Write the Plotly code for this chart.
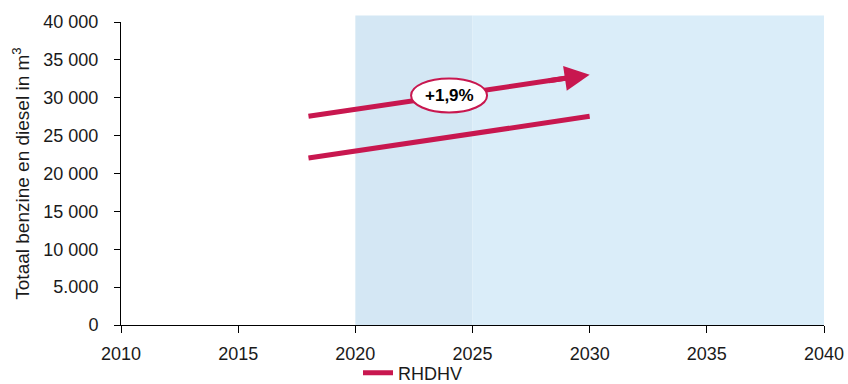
import plotly.graph_objects as go

# ---- data ----
x_range = [2010, 2040]
y_range = [0, 40000]
x_ticks = [2010, 2015, 2020, 2025, 2030, 2035, 2040]
y_ticks = [0, 5000, 10000, 15000, 20000, 25000, 30000, 35000, 40000]
y_ticktext = ["0", "5.000", "10 000", "15 000", "20 000", "25 000", "30 000", "35 000", "40 000"]

rhdhv_years = [2018, 2030]
rhdhv_values = [22050, 27550]

arrow_years = [2018, 2030]
arrow_values = [27550, 33050]
growth_label = "+1,9%"
label_pos = (2024.0, 30300)

shade_periods = [(2020, 2025), (2025, 2040)]
shade_colors = ["#d4e7f4", "#daedf9"]
shade_top = 40850

RED = "#c8174f"
FONT = "Liberation Sans, Arial"

fig = go.Figure()

# RHDHV line
fig.add_trace(go.Scatter(
    x=rhdhv_years, y=rhdhv_values, mode="lines", name="RHDHV",
    line=dict(color=RED, width=5), showlegend=True,
))

# arrow shaft (stops slightly short of tip; head drawn by annotation)
frac = 0.93
shaft_x = [arrow_years[0], arrow_years[0] + frac * (arrow_years[1] - arrow_years[0])]
shaft_y = [arrow_values[0], arrow_values[0] + frac * (arrow_values[1] - arrow_values[0])]
fig.add_trace(go.Scatter(
    x=shaft_x, y=shaft_y, mode="lines", line=dict(color=RED, width=5),
    showlegend=False, hoverinfo="skip",
))

xspan = x_range[1] - x_range[0]
yspan = y_range[1] - y_range[0]
shapes = []
for (a, b), c in zip(shade_periods, shade_colors):
    shapes.append(dict(
        type="rect", xref="x domain", yref="y domain",
        x0=(a - x_range[0]) / xspan, x1=(b - x_range[0]) / xspan,
        y0=0, y1=(shade_top - y_range[0]) / yspan,
        fillcolor=c, line=dict(width=0), layer="below",
    ))
# ellipse label
shapes.append(dict(
    type="circle", xref="x", yref="y", xsizemode="pixel", ysizemode="pixel",
    xanchor=label_pos[0], yanchor=label_pos[1],
    x0=-38, x1=38, y0=-17, y1=17,
    fillcolor="white", line=dict(color=RED, width=2), layer="above",
))

annotations = [
    dict(x=arrow_years[1], y=arrow_values[1],
         ax=arrow_years[0] + 0.85 * (arrow_years[1] - arrow_years[0]),
         ay=arrow_values[0] + 0.85 * (arrow_values[1] - arrow_values[0]),
         axref="x", ayref="y", xref="x", yref="y", text="",
         showarrow=True, arrowhead=2, arrowsize=1, arrowwidth=5, arrowcolor=RED),
    dict(x=label_pos[0], y=label_pos[1], xref="x", yref="y", text="<b>" + growth_label + "</b>",
         showarrow=False, font=dict(size=17, color="black", family=FONT)),
]

fig.update_layout(
    width=848, height=384,
    margin=dict(l=121, r=24, t=18, b=59),
    plot_bgcolor="white", paper_bgcolor="white",
    font=dict(family=FONT, size=18, color="#1a1a1a"),
    shapes=shapes, annotations=annotations,
    showlegend=True,
    legend=dict(orientation="h", x=358 / 848, xanchor="left", xref="container",
                y=1 - 373 / 384, yanchor="middle", yref="container",
                font=dict(size=18), bgcolor="rgba(0,0,0,0)"),
    xaxis=dict(range=x_range, tickvals=x_ticks, showgrid=False, zeroline=False,
               showline=True, linecolor="black", linewidth=1, automargin=False,
               ticks="outside", ticklen=7, tickcolor="black", ticklabelstandoff=5),
    yaxis=dict(range=y_range, tickvals=y_ticks, ticktext=y_ticktext,
               showgrid=False, zeroline=False, showline=True, linecolor="black",
               linewidth=1, ticks="outside", ticklen=6, tickcolor="black",
               ticklabelstandoff=12,
               title=dict(text="Totaal benzine en diesel in m<sup>3</sup>",
                          font=dict(size=19), standoff=8)),
)

fig.write_html("out.html")
